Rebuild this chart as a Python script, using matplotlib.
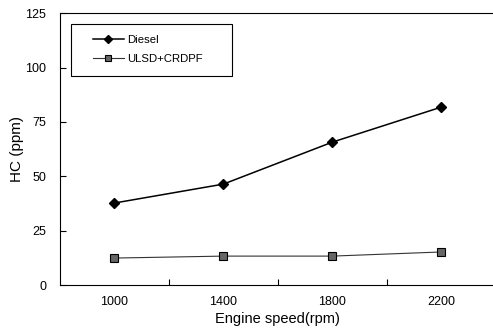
import matplotlib
matplotlib.use("Agg")
import matplotlib.pyplot as plt
from matplotlib.patches import Rectangle

plt.rcParams['font.family'] = ['Liberation Sans', 'DejaVu Sans']

speeds = ['1000', '1400', '1800', '2200']
diesel = [37.7, 46.4, 65.7, 81.8]
ulsd_crdpf = [12.4, 13.3, 13.3, 15.2]

fig = plt.figure(figsize=(4.93, 3.28), dpi=100)
ax = fig.add_axes([0.1217, 0.131, 0.884, 0.829])

x = list(range(len(speeds)))
ax.plot(x, diesel, color='black', lw=1.1, marker='D', markersize=5,
        markerfacecolor='black', markeredgecolor='black', label='Diesel')
ax.plot(x, ulsd_crdpf, color='#333333', lw=0.8, marker='s', markersize=5.5,
        markerfacecolor='#666666', markeredgecolor='black', markeredgewidth=0.8,
        label='ULSD+CRDPF')

ax.set_xlim(-0.5, 3.5)
ax.set_ylim(0, 125)
ax.set_yticks([0, 25, 50, 75, 100, 125])
ax.set_xticks(x)
ax.set_xticklabels(speeds)
ax.set_xticks([0.5, 1.5, 2.5], minor=True)
ax.tick_params(axis='x', which='major', length=0, pad=8, labelsize=9)
ax.tick_params(axis='x', which='minor', direction='in', length=4, width=0.8)
ax.tick_params(axis='y', direction='in', length=4, width=0.8, labelsize=9, pad=10)

for s in ['left', 'bottom', 'top']:
    ax.spines[s].set_linewidth(0.8)
ax.spines['right'].set_visible(False)

ax.set_xlabel('Engine speed(rpm)', fontsize=10.5, labelpad=3)
ax.set_ylabel('HC (ppm)', fontsize=11, labelpad=1)

# legend box drawn separately so it can be wider than its content
ax.add_patch(Rectangle((0.0252, 0.7684), 0.369, 0.191, transform=ax.transAxes,
                       fill=False, edgecolor='black', lw=0.8, zorder=5))
ax.legend(loc='upper left', bbox_to_anchor=(0.0757, 0.918), fontsize=8.2,
          frameon=False, handlelength=2.7, labelspacing=0.75, borderpad=0,
          borderaxespad=0, handletextpad=0.3, markerscale=0.85)

fig.savefig('out.png', dpi=100)
